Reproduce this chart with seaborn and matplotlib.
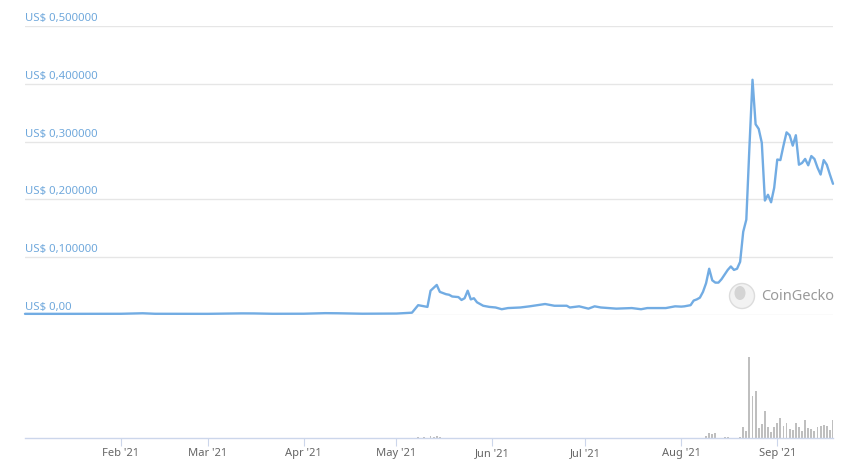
import pandas as pd
import seaborn as sns
import matplotlib.pyplot as plt
import matplotlib.dates as mdates
from matplotlib.patches import Circle, Ellipse
import matplotlib.transforms as mtransforms
#---------------------------------------------------------------------------#
price_dates = ['2021-01-01', '2021-01-15', '2021-02-01', '2021-02-08', '2021-02-12',
               '2021-03-01', '2021-03-12', '2021-03-16', '2021-03-22', '2021-04-01',
               '2021-04-08', '2021-04-12', '2021-04-20', '2021-05-01', '2021-05-06',
               '2021-05-08', '2021-05-11', '2021-05-12', '2021-05-14', '2021-05-15',
               '2021-05-17', '2021-05-18', '2021-05-19', '2021-05-21', '2021-05-22',
               '2021-05-23', '2021-05-24', '2021-05-25', '2021-05-26', '2021-05-27',
               '2021-05-29', '2021-05-31', '2021-06-02', '2021-06-04', '2021-06-06',
               '2021-06-10', '2021-06-13', '2021-06-18', '2021-06-21', '2021-06-25',
               '2021-06-26', '2021-06-29', '2021-07-02', '2021-07-04', '2021-07-06',
               '2021-07-11', '2021-07-16', '2021-07-19', '2021-07-21', '2021-07-27',
               '2021-07-30']
price_values = [0.0020, 0.0020, 0.0021, 0.0030, 0.0021,
                0.0020, 0.0028, 0.0027, 0.0021, 0.0022,
                0.0032, 0.0030, 0.0022, 0.0025, 0.0040,
                0.017, 0.014, 0.042, 0.052, 0.040,
                0.036, 0.035, 0.032, 0.031, 0.026,
                0.029, 0.042, 0.027, 0.029, 0.022,
                0.016, 0.014, 0.013, 0.010, 0.012,
                0.013, 0.015, 0.019, 0.016, 0.016,
                0.013, 0.015, 0.011, 0.015, 0.013,
                0.011, 0.012, 0.010, 0.012, 0.012,
                0.015]

# daily closes from 1 Aug to 19 Sep 2021
aug_sep_values = [0.0145, 0.015, 0.016, 0.017, 0.025, 0.027, 0.030, 0.040, 0.055, 0.080,
                  0.060, 0.056, 0.056, 0.062, 0.070, 0.078, 0.084, 0.078, 0.080, 0.092,
                  0.144, 0.165, 0.290, 0.407, 0.330, 0.322, 0.298, 0.198, 0.208, 0.195,
                  0.220, 0.269, 0.268, 0.293, 0.316, 0.311, 0.293, 0.311, 0.260, 0.263,
                  0.270, 0.259, 0.275, 0.270, 0.255, 0.243, 0.268, 0.260, 0.243, 0.227]

vol_dates = ['2021-05-08', '2021-05-10', '2021-05-12', '2021-05-13', '2021-05-14', '2021-05-15',
             '2021-08-09', '2021-08-10', '2021-08-11', '2021-08-12', '2021-08-15', '2021-08-16',
             '2021-08-20']
vol_values = [1, 1, 2, 1, 2, 1,
              2.3, 4.7, 4, 4.7, 1, 1,
              1]
# daily volume from 21 Aug to 19 Sep 2021
late_vol = [11, 7, 82, 43, 48, 10, 14, 27, 11, 6,
            11, 15, 20, 12, 15, 9, 8, 15, 11, 7,
            18, 10, 9, 7, 11, 12, 13, 12, 8, 18]

y_ticks = [0.0, 0.1, 0.2, 0.3, 0.4, 0.5]
y_labels = ['US$ 0,00', 'US$ 0,100000', 'US$ 0,200000', 'US$ 0,300000',
            'US$ 0,400000', 'US$ 0,500000']
month_ticks = ['2021-02-01', '2021-03-01', '2021-04-01', '2021-05-01',
               '2021-06-01', '2021-07-01', '2021-08-01', '2021-09-01']
#---------------------------------------------------------------------------#
price = pd.DataFrame({
    'date': pd.to_datetime(price_dates).append(pd.date_range('2021-08-01', periods=len(aug_sep_values))),
    'price': price_values + aug_sep_values})
volume = pd.DataFrame({
    'date': pd.to_datetime(vol_dates).append(pd.date_range('2021-08-21', periods=len(late_vol))),
    'volume': vol_values + late_vol})

sns.set_theme(style='white')
plt.rcParams['font.family'] = ['Noto Sans', 'DejaVu Sans']

fig = plt.figure(figsize=(8.58, 4.66), dpi=100)
ax = fig.add_axes([25/858, 1-315/466, 808/858, 289/466])
axv = fig.add_axes([25/858, 1-438/466, 808/858, 88/466], sharex=ax)

x0, x1 = pd.Timestamp('2021-01-01'), pd.Timestamp('2021-09-19')

# price
ax.set_ylim(0, 0.5)
ax.set_yticks(y_ticks)
ax.yaxis.grid(True, color='#e6e6e6', lw=1)
ax.xaxis.grid(False)
sns.lineplot(data=price, x='date', y='price', ax=ax, color='#72ace3', lw=1.7, clip_on=False)
ax.set_xlim(x0, x1)
ax.set_xlabel('')
ax.set_ylabel('')
ax.tick_params(labelleft=False, labelbottom=False, left=False, bottom=False)
for s in ax.spines.values():
    s.set_visible(False)
trans = mtransforms.blended_transform_factory(ax.transAxes, ax.transData)
for v, lab in zip(y_ticks, y_labels):
    ax.annotate(lab, (0, v), xycoords=trans, xytext=(0, 1.5), textcoords='offset points',
                ha='left', va='bottom', fontsize=8.2, color='#6fa8dc')

# watermark
logo = Circle((742, 466-296), 12.5, transform=None, facecolor='#f2f2f2',
              edgecolor='#dcdcdc', lw=1, zorder=5)
fig.patches.append(logo)
fig.patches.append(Ellipse((740, 466-293), 11, 14, transform=None,
                           facecolor='#d4d4d4', edgecolor='none', zorder=6))
fig.text(761/858, 1-296/466, 'CoinGecko', ha='left', va='center',
         fontsize=10.5, color='#9a9a9a')

# volume
axv.bar(volume['date'], volume['volume'], width=0.6, color='#bfbfbf',
        edgecolor='none', linewidth=0)
axv.set_ylim(0, max(late_vol) * 1.09)
axv.set_xlim(x0, x1)
for k, s in axv.spines.items():
    s.set_visible(k == 'bottom')
axv.spines['bottom'].set_color('#ccd6eb')
axv.spines['bottom'].set_linewidth(1)
axv.set_yticks([])
axv.set_xticks(pd.to_datetime(month_ticks))
axv.xaxis.set_major_formatter(mdates.DateFormatter("%b '%y"))
axv.tick_params(axis='x', bottom=True, length=5.5, width=0.8, color='#ccd6eb',
                labelsize=8, labelcolor='#666666', pad=2)
axv.set_xlabel('')

plt.savefig('out.png', dpi=100)
